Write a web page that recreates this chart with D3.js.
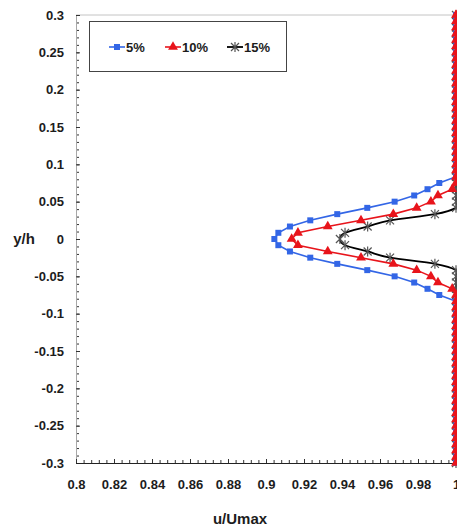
<!DOCTYPE html>
<html>
<head>
<meta charset="utf-8">
<script src="https://cdn.jsdelivr.net/npm/d3@7"></script>
<style>
  body { margin: 0; background: #fff; }
  text { font-family: "Liberation Sans", Arial, sans-serif; font-weight: bold; fill: #1c1c1c; }
</style>
</head>
<body>
<svg id="chart" width="457" height="527"></svg>
<script>
// Velocity profiles u/Umax across the channel height y/h
const yh = [
  0.3, 0.2917, 0.2833, 0.275, 0.2667, 0.2583, 0.25, 0.2417, 0.2333,
  0.225, 0.2167, 0.2083, 0.2, 0.1917, 0.1833, 0.175, 0.1667, 0.1583,
  0.15, 0.1417, 0.1333, 0.125, 0.1167, 0.1083, 0.1, 0.0917, 0.0833,
  0.075, 0.0667, 0.0583, 0.05, 0.0417, 0.0333, 0.025, 0.0167, 0.0083,
  0,
  -0.0083, -0.0167, -0.025, -0.0333, -0.0417, -0.05, -0.0583, -0.0667, -0.075,
  -0.0833, -0.0917, -0.1, -0.1083, -0.1167, -0.125, -0.1333, -0.1417, -0.15,
  -0.1583, -0.1667, -0.175, -0.1833, -0.1917, -0.2, -0.2083, -0.2167, -0.225,
  -0.2333, -0.2417, -0.25, -0.2583, -0.2667, -0.275, -0.2833, -0.2917, -0.3
];

const u5 = [
  1, 1, 1, 1, 1, 1, 1, 1, 1,
  1, 1, 1, 1, 1, 1, 1, 1, 1,
  1, 1, 1, 1, 1, 1, 1, 1, 1,
  0.9912, 0.985, 0.978, 0.9677, 0.9533, 0.9375, 0.9233, 0.9126, 0.9065,
  0.9044,
  0.9065, 0.9126, 0.9233, 0.9375, 0.9533, 0.9677, 0.978, 0.985, 0.9912,
  1, 1, 1, 1, 1, 1, 1, 1, 1,
  1, 1, 1, 1, 1, 1, 1, 1, 1,
  1, 1, 1, 1, 1, 1, 1, 1, 1
];

const u10 = [
  1, 1, 1, 1, 1, 1, 1, 1, 1,
  1, 1, 1, 1, 1, 1, 1, 1, 1,
  1, 1, 1, 1, 1, 1, 1, 1, 1,
  1, 0.998, 0.9905, 0.9868, 0.9793, 0.967, 0.95, 0.9325, 0.9168,
  0.9135,
  0.9168, 0.9325, 0.95, 0.967, 0.9793, 0.9868, 0.9905, 0.998, 1,
  1, 1, 1, 1, 1, 1, 1, 1, 1,
  1, 1, 1, 1, 1, 1, 1, 1, 1,
  1, 1, 1, 1, 1, 1, 1, 1, 1
];

const u15 = [
  1, 1, 1, 1, 1, 1, 1, 1, 1,
  1, 1, 1, 1, 1, 1, 1, 1, 1,
  1, 1, 1, 1, 1, 1, 1, 1, 1,
  1, 1, 1, 1, 1, 0.9889, 0.9653, 0.9535, 0.9416,
  0.9389,
  0.9416, 0.9535, 0.9653, 0.9889, 1, 1, 1, 1, 1,
  1, 1, 1, 1, 1, 1, 1, 1, 1,
  1, 1, 1, 1, 1, 1, 1, 1, 1,
  1, 1, 1, 1, 1, 1, 1, 1, 1
];

const seriesNames = ["5%", "10%", "15%"];
const xTicks = [0.8, 0.82, 0.84, 0.86, 0.88, 0.9, 0.92, 0.94, 0.96, 0.98, 1];
const xTickLabels = ["0.8", "0.82", "0.84", "0.86", "0.88", "0.9", "0.92", "0.94", "0.96", "0.98", "1"];
const yTicks = [0.3, 0.25, 0.2, 0.15, 0.1, 0.05, 0, -0.05, -0.1, -0.15, -0.2, -0.25, -0.3];
const yTickLabels = ["0.3", "0.25", "0.2", "0.15", "0.1", "0.05", "0", "-0.05", "-0.1", "-0.15", "-0.2", "-0.25", "-0.3"];

const svg = d3.select("#chart");
const x = d3.scaleLinear().domain([0.8, 1]).range([76, 456]);
const y = d3.scaleLinear().domain([-0.3, 0.3]).range([463, 15]);

svg.append("rect").attr("width", 457).attr("height", 527).attr("fill", "#fff");

// plot frame: light top edge
svg.append("line").attr("x1", x(0.8)).attr("x2", x(1)).attr("y1", y(0.3)).attr("y2", y(0.3))
  .attr("stroke", "#c4c4c4").attr("stroke-width", 1);

// minor ticks
const yMinor = d3.range(-30, 31).map(v => v / 100);
const xMinor = d3.range(0, 51).map(v => 0.8 + v * 0.004);
svg.append("g").attr("transform", `translate(${x(0.8)},0)`)
  .call(d3.axisLeft(y).tickValues(yMinor).tickSize(-3).tickFormat(""))
  .call(g => g.select(".domain").remove())
  .call(g => g.selectAll("line").attr("stroke", "#333"));
svg.append("g").attr("transform", `translate(0,${y(-0.3)})`)
  .call(d3.axisBottom(x).tickValues(xMinor).tickSize(-3).tickFormat(""))
  .call(g => g.select(".domain").remove())
  .call(g => g.selectAll("line").attr("stroke", "#333"));

// y axis
svg.append("g").attr("transform", `translate(${x(0.8)},0)`)
  .call(d3.axisLeft(y).tickValues(yTicks).tickSize(-4).tickPadding(12)
    .tickFormat((d, i) => yTickLabels[i]))
  .call(g => g.select(".domain").attr("stroke", "#a8a8a8"))
  .call(g => g.selectAll("line").attr("stroke", "#333"))
  .call(g => g.selectAll("text").attr("font-size", 13).attr("fill", "#1c1c1c")
    .attr("font-family", "Liberation Sans, Arial, sans-serif"));

// x axis
svg.append("g").attr("transform", `translate(0,${y(-0.3)})`)
  .call(d3.axisBottom(x).tickValues(xTicks).tickSize(-4).tickPadding(17)
    .tickFormat((d, i) => xTickLabels[i]))
  .call(g => g.select(".domain").attr("stroke", "#222"))
  .call(g => g.selectAll("line").attr("stroke", "#333"))
  .call(g => g.selectAll("text").attr("font-size", 13).attr("fill", "#1c1c1c")
    .attr("font-family", "Liberation Sans, Arial, sans-serif"));

// axis titles
svg.append("text").attr("x", 24).attr("y", 239).attr("dy", "0.35em")
  .attr("text-anchor", "middle").attr("font-size", 15).text("y/h");
svg.append("text").attr("x", 240).attr("y", 524)
  .attr("text-anchor", "middle").attr("font-size", 15).text("u/Umax");

// marker shapes
function drawMarker(g, kind, color) {
  if (kind === "square") {
    g.append("path").attr("d", d3.symbol(d3.symbolSquare, 36)()).attr("fill", color);
  } else if (kind === "triangle") {
    g.append("path").attr("d", d3.symbol(d3.symbolTriangle, 42)()).attr("fill", color);
  } else {
    const r = 4;
    g.append("path")
      .attr("d", `M${-r},${-r}L${r},${r}M${-r},${r}L${r},${-r}M0,${-r - 1}L0,${r + 1}`)
      .attr("stroke", color).attr("stroke-width", 1.2).attr("fill", "none");
  }
}

const series = [
  { name: seriesNames[0], u: u5, color: "#3366e6", marker: "square", curve: d3.curveLinear, markerColor: "#3366e6", width: 1.6 },
  { name: seriesNames[1], u: u10, color: "#e8141b", marker: "triangle", curve: d3.curveLinear, markerColor: "#e8141b", width: 1.6 },
  { name: seriesNames[2], u: u15, color: "#000", marker: "star", curve: d3.curveCatmullRom.alpha(0), markerColor: "#555", width: 1.8 }
];

// the 15% profile sits underneath, the coloured profiles are drawn over it
const drawOrder = [2, 0, 1];
drawOrder.forEach(k => {
  const s = series[k];
  const pts = yh.map((v, i) => [s.u[i], v]);
  svg.append("path").datum(pts)
    .attr("fill", "none").attr("stroke", s.color).attr("stroke-width", s.width)
    .attr("d", d3.line().x(d => x(d[0])).y(d => y(d[1])).curve(s.curve));
  const mg = svg.append("g");
  pts.forEach(p => {
    const g = mg.append("g").attr("transform", `translate(${x(p[0])},${y(p[1])})`);
    drawMarker(g, s.marker, s.markerColor);
  });
});

// legend
const legend = svg.append("g");
legend.append("rect").attr("x", 89.5).attr("y", 21.5).attr("width", 197).attr("height", 50)
  .attr("fill", "#fff").attr("stroke", "#444").attr("stroke-width", 1);
const legendX = [109, 165, 227];
series.forEach((s, i) => {
  const lx = legendX[i];
  const g = legend.append("g").attr("transform", `translate(${lx},47)`);
  g.append("line").attr("x1", 0).attr("x2", 16).attr("stroke", s.color).attr("stroke-width", s.width);
  drawMarker(g.append("g").attr("transform", "translate(8,0)"), s.marker, s.markerColor);
  g.append("text").attr("x", 17).attr("dy", "0.35em").attr("font-size", 13).text(s.name);
});
</script>
</body>
</html>
